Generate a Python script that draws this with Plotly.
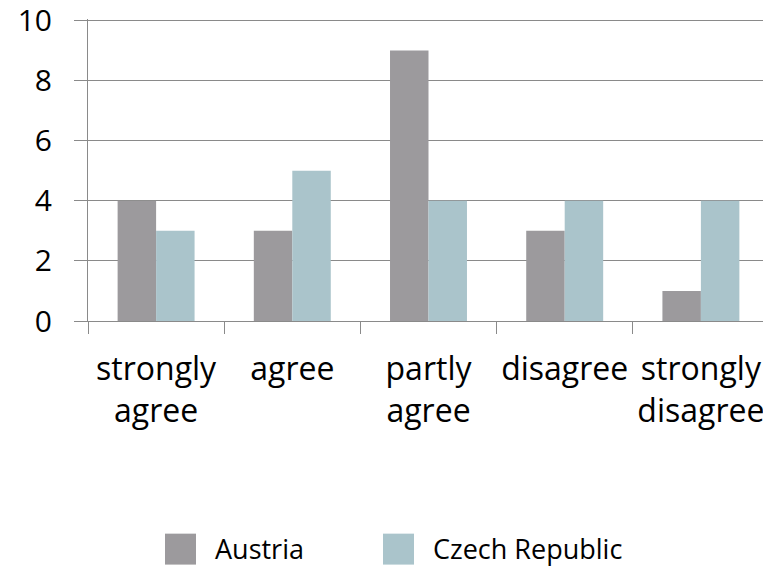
import plotly.graph_objects as go

categories = ["strongly<br>agree", "agree", "partly<br>agree", "disagree", "strongly<br>disagree"]
series_names = ["Austria", "Czech Republic"]
austria = [4, 3, 9, 3, 1]
czech = [3, 5, 4, 4, 4]
colors = ["#9c9a9d", "#aac4cb"]
y_ticks = [0, 2, 4, 6, 8, 10]

FONT = "Open Sans"
GRID = "#8a8a8a"

# page has an 8px body margin: figure coordinates = screenshot - 8
OFF = 8
W, H = 771 - OFF, 566 - OFF
L, R, T, B = 88 - OFF, 769 - OFF, 18.5 - OFF, 321 - OFF
PW, PH = R - L, B - T

fig = go.Figure()
for name, vals, col in zip(series_names, [austria, czech], colors):
    fig.add_trace(go.Bar(x=categories, y=vals, name=name, marker=dict(color=col, line=dict(width=0)),
                         showlegend=False))

# manual legend (large swatches)
legend_x = [165, 383]
for i, (name, col) in enumerate(zip(series_names, colors)):
    x0 = legend_x[i] - OFF
    fig.add_shape(type="rect", xref="paper", yref="paper",
                  x0=(x0 - L) / PW, x1=(x0 + 31 - L) / PW,
                  y0=-(565 - OFF - B) / PH, y1=-(534 - OFF - B) / PH,
                  fillcolor=col, line=dict(width=0))
    fig.add_annotation(text=name, xref="paper", yref="paper",
                       x=(x0 + 48 - L) / PW, y=-(549 - OFF - B) / PH,
                       xanchor="left", yanchor="middle", showarrow=False,
                       font=dict(family=FONT, size=27, color="black"))

fig.update_layout(
    width=W, height=H,
    margin=dict(l=L, r=W - R, t=T, b=H - B, autoexpand=False),
    paper_bgcolor="white", plot_bgcolor="white",
    barmode="group", bargap=0.435, bargroupgap=0,
    font=dict(family=FONT, size=30, color="black"),
)
fig.update_xaxes(type="category", tickson="boundaries", ticks="outside", ticklen=12,
                 tickcolor=GRID, tickwidth=1, showline=True, linecolor=GRID, linewidth=1,
                 showgrid=False, tickfont=dict(family=FONT, size=32, color="black"),
                 tickangle=0, ticklabeloverflow="allow",
                 ticklabelstandoff=20, automargin=False)
fig.update_yaxes(range=[0, 10.05], tickvals=y_ticks, ticks="outside", ticklen=13, tickcolor=GRID,
                 showgrid=True, gridcolor=GRID, gridwidth=1, showline=True, linecolor=GRID,
                 zeroline=False, tickfont=dict(family=FONT, size=30, color="black"),
                 ticklabeloverflow="allow",
                 ticklabelstandoff=16, automargin=False)

fig.write_html("out.html")
